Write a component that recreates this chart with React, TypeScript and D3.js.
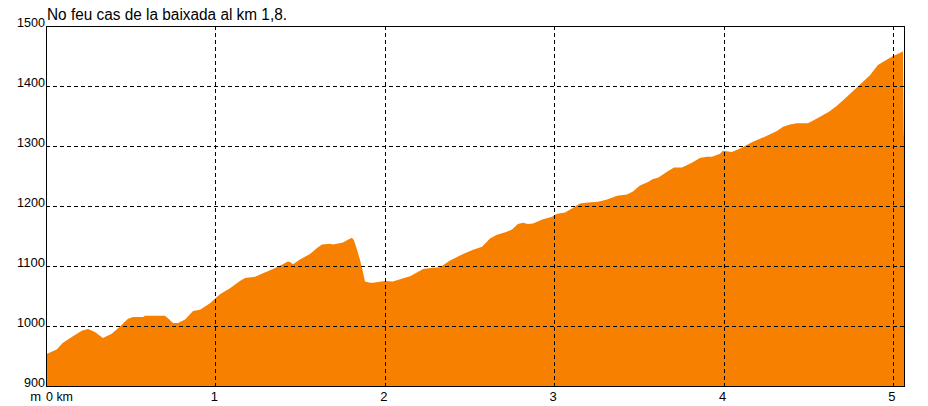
import React from 'react'
import { scaleLinear, area, curveLinear } from 'd3'

// perfil: km i altitud (m)
const km = [
  0, 0.063, 0.1, 0.159, 0.211, 0.248, 0.289, 0.336, 0.388, 0.437, 0.484, 0.514, 0.573, 0.584,
  0.702, 0.72, 0.75, 0.779, 0.821, 0.868, 0.909, 0.968, 1.027, 1.086, 1.145, 1.175, 1.234,
  1.281, 1.34, 1.399, 1.423, 1.44, 1.458, 1.499, 1.558, 1.6, 1.629, 1.677, 1.694, 1.753,
  1.777, 1.806, 1.818, 1.836, 1.854, 1.871, 1.883, 1.913, 1.93, 2.001, 2.048, 2.09, 2.149,
  2.208, 2.226, 2.285, 2.326, 2.385, 2.462, 2.521, 2.574, 2.621, 2.662, 2.721, 2.751, 2.786,
  2.816, 2.845, 2.875, 2.934, 2.987, 3.017, 3.064, 3.105, 3.152, 3.2, 3.259, 3.312, 3.371,
  3.43, 3.465, 3.506, 3.554, 3.583, 3.613, 3.666, 3.707, 3.754, 3.813, 3.86, 3.902, 3.931,
  3.979, 3.996, 4.049, 4.097, 4.173, 4.256, 4.315, 4.351, 4.392, 4.433, 4.498, 4.551, 4.622,
  4.669, 4.728, 4.793, 4.864, 4.911, 4.965, 5.0, 5.041, 5.059, 5.064, 5.071,
]
const elev = [
  953, 961, 972, 983, 992, 995, 990, 980, 987, 999, 1012, 1015, 1015, 1017,
  1017, 1013, 1005, 1005, 1011, 1025, 1027, 1038, 1053, 1063, 1075, 1080, 1082,
  1088, 1095, 1103, 1107, 1107, 1103, 1111, 1120, 1130, 1136, 1137, 1136, 1139,
  1143, 1147, 1143, 1127, 1110, 1090, 1074, 1072, 1072, 1075, 1074, 1078, 1083,
  1092, 1095, 1097, 1098, 1109, 1120, 1127, 1132, 1146, 1152, 1157, 1161, 1170,
  1172, 1170, 1171, 1178, 1182, 1187, 1189, 1196, 1204, 1206, 1207, 1211, 1217,
  1219, 1224, 1234, 1240, 1245, 1247, 1257, 1264, 1264, 1272, 1280, 1282, 1282,
  1287, 1292, 1290, 1296, 1307, 1317, 1325, 1332, 1336, 1338, 1338, 1346, 1357,
  1367, 1382, 1399, 1418, 1435, 1444, 1450, 1455, 1458, 1318, 1318,
]
const yTicks = [900, 1000, 1100, 1200, 1300, 1400, 1500]
const xTicks = [1, 2, 3, 4, 5]
const title = 'No feu cas de la baixada al km 1,8.'

const W = 928
const H = 406
const font = '"Liberation Sans", Arial, sans-serif'

export default function App() {
  const x = scaleLinear().domain([0, 5.071]).range([46, 905])
  const y = scaleLinear().domain([900, 1500]).range([386, 26])
  const pts = km.map((k, i) => [k, elev[i]] as [number, number])
  const profile = area<[number, number]>()
    .x(d => x(d[0]))
    .y0(y(900))
    .y1(d => y(d[1]))
    .curve(curveLinear)

  return (
    <svg width={W} height={H} style={{ position: 'absolute', left: 0, top: 0, background: '#fff' }}>
      <path d={profile(pts) || ''} fill="#f88000" />
      {/* graella */}
      {yTicks.slice(1, -1).map(t => (
        <line key={t} x1={46} x2={905} y1={y(t) + 0.5} y2={y(t) + 0.5}
          stroke="#000" strokeDasharray="4 3" shapeRendering="crispEdges" />
      ))}
      {xTicks.map(t => (
        <line key={t} x1={Math.round(x(t)) + 0.5} x2={Math.round(x(t)) + 0.5} y1={26} y2={386}
          stroke="#000" strokeDasharray="4 3" shapeRendering="crispEdges" />
      ))}
      <rect x={46.5} y={26.5} width={858} height={360} fill="none" stroke="#000" shapeRendering="crispEdges" />
      {yTicks.map(t => (
        <text key={t} x={45} y={y(t) + 1} textAnchor="end" fontFamily={font} fontSize={13}
          textLength={String(t).length * 7} lengthAdjust="spacingAndGlyphs">{t}</text>
      ))}
      {xTicks.map(t => (
        <text key={t} x={x(t) - 1} y={401} textAnchor="middle" fontFamily={font} fontSize={13}>{t}</text>
      ))}
      <text x={41} y={401} textAnchor="end" fontFamily={font} fontSize={13}>m</text>
      <text x={46} y={401} fontFamily={font} fontSize={13} textLength={27} lengthAdjust="spacingAndGlyphs">0 km</text>
      <text x={47} y={20} fontFamily={font} fontSize={16} textLength={240} lengthAdjust="spacingAndGlyphs">{title}</text>
    </svg>
  )
}
